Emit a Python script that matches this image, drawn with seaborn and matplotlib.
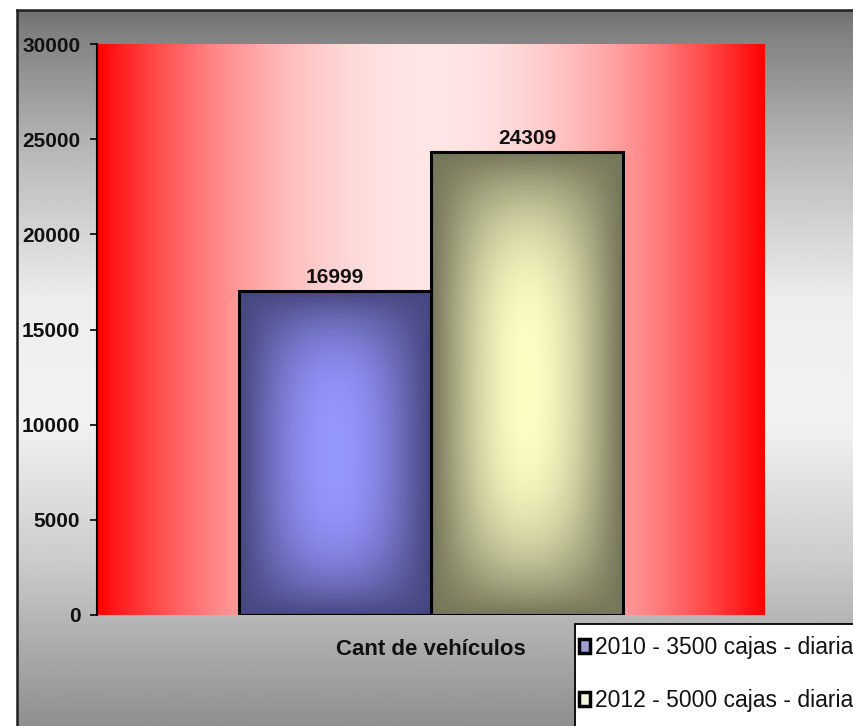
import numpy as np
import pandas as pd
import matplotlib
matplotlib.use("Agg")
import matplotlib.pyplot as plt
from matplotlib.patches import Patch, Rectangle
from matplotlib.colors import to_rgb
import seaborn as sns

# chart data
categories = ["Cant de vehículos"]
series = ["2010 - 3500 cajas - diarias", "2012 - 5000 cajas - diarias"]
values = [16999, 24309]
y_ticks = [0, 5000, 10000, 15000, 20000, 25000, 30000]

# colours: (edge of bar, centre of bar, legend swatch)
bar_edge_colors = ["#474780", "#76765a"]
bar_center_colors = ["#9696ff", "#fdfdc4"]
legend_colors = ["#9d9dd6", "#f6f6dc"]

df = pd.DataFrame({"category": categories * len(series),
                   "series": series,
                   "value": values})

sns.set_theme(style="white")
plt.rcParams["font.family"] = ["Liberation Sans", "DejaVu Sans"]

W, H = 854, 726
fig = plt.figure(figsize=(W / 100, H / 100), dpi=100)
fig.patch.set_facecolor("white")

# grey chart-area background with vertical gradient
bg = fig.add_axes([17 / W, 0, 1 - 17 / W, 1 - 10 / H])
ypix = np.linspace(10, 726, 400)
shade = np.interp(ypix, [10, 30, 150, 300, 420, 560, 726],
                  [0.44, 0.50, 0.72, 0.93, 0.95, 0.80, 0.56])
bg.imshow(np.repeat(shade[:, None], 4, axis=1), cmap="gray", vmin=0, vmax=1,
          aspect="auto", extent=(0, 1, 0, 1), origin="upper")
bg.set_xticks([])
bg.set_yticks([])
for s in ["right", "bottom"]:
    bg.spines[s].set_visible(False)
for s in ["top", "left"]:
    bg.spines[s].set_color("#202020")
    bg.spines[s].set_linewidth(1.8)

# plot area
ax = fig.add_axes([97 / W, 1 - 615 / H, (765 - 97) / W, (615 - 44) / H])
ax.patch.set_visible(False)

t = np.abs(np.linspace(-1, 1, 600))
g = 0.9 * (1 - t ** 2)
red_grad = np.stack([np.ones_like(g), g, g], axis=-1)[None, :, :]
ax.imshow(red_grad, extent=(0, 1, 0, 1), transform=ax.transAxes,
          aspect="auto", zorder=0)

sns.barplot(data=df, x="category", y="value", hue="series",
            palette=bar_center_colors, width=0.8, saturation=1,
            edgecolor="black", linewidth=2.2, legend=False, ax=ax, zorder=3)

ax.set_xlim(-0.696, 0.696)
ax.set_ylim(0, 30000)

# soft "from centre" gradient inside each bar
for i, cont in enumerate(ax.containers):
    edge = np.array(to_rgb(bar_edge_colors[i]))
    center = np.array(to_rgb(bar_center_colors[i]))
    for bar in cont:
        x0, y0 = bar.get_x(), bar.get_y()
        w, h = bar.get_width(), bar.get_height()
        nx_ = np.linspace(-1, 1, 200)
        ny_ = np.linspace(-1, 1, 300)
        NX, NY = np.meshgrid(nx_, ny_)
        f = (1 - NX ** 2) ** 1.2 * (1 - np.abs(NY) ** 3)
        img = edge + (center - edge) * f[..., None]
        im = ax.imshow(img, extent=(x0, x0 + w, y0, y0 + h), origin="lower",
                       aspect="auto", zorder=2, interpolation="bilinear")
        im.set_clip_path(bar)
        bar.set_facecolor("none")
    ax.bar_label(cont, labels=[f"{v:.0f}" for v in cont.datavalues],
                 padding=3, fontsize=15, fontweight="bold", color="#111111")

ax.set_xlim(-0.696, 0.696)
ax.set_ylim(0, 30000)
ax.set_yticks(y_ticks)
ax.set_yticklabels([str(v) for v in y_ticks], fontsize=15, fontweight="bold")
ax.tick_params(axis="y", left=True, length=5, width=1.2, color="black",
               direction="out", pad=7, labelcolor="#111111")
ax.tick_params(axis="x", length=0, pad=17, labelsize=16, labelcolor="#111111")
for lbl in ax.get_xticklabels():
    lbl.set_fontweight("bold")
ax.set_xlabel("")
ax.set_ylabel("")
for s in ["top", "right", "bottom"]:
    ax.spines[s].set_visible(False)
ax.spines["left"].set_color("black")
ax.spines["left"].set_linewidth(1.5)
ax.spines["left"].set_zorder(4)

# legend box runs off the right and bottom edges like the original
frame = Rectangle((575 / W, -0.1), 0.5, 0.1 + (726 - 624) / H,
                  transform=fig.transFigure, facecolor="white",
                  edgecolor="black", linewidth=1.3, zorder=5)
fig.patches.append(frame)
handles = [Patch(facecolor=c, edgecolor="black", linewidth=2.5) for c in legend_colors]
leg = fig.legend(handles, series, loc="upper left",
                 bbox_to_anchor=(579 / W, 1 - 636 / H), bbox_transform=fig.transFigure,
                 frameon=False, fontsize=16.5, handlelength=0.5,
                 handleheight=0.55, handletextpad=0.2, labelspacing=1.32,
                 borderpad=0, borderaxespad=0)
leg.set_zorder(6)
for txt in leg.get_texts():
    txt.set_color("#111111")

fig.savefig("out.png", dpi=100)
